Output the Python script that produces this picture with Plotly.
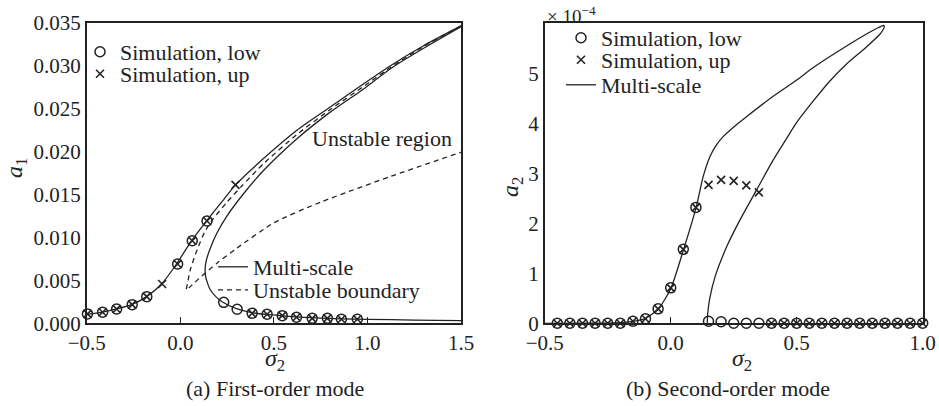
import plotly.graph_objects as go

# ---------------- Panel (a): first-order mode ----------------
sim1_low_x = [-0.496, -0.415, -0.34, -0.257, -0.179, -0.014, 0.064, 0.143,
              0.232, 0.304, 0.384, 0.464, 0.545, 0.621, 0.705, 0.786, 0.861, 0.946]
sim1_low_y = [0.00109, 0.00128, 0.00167, 0.00217, 0.0031, 0.0069, 0.0096, 0.0119,
              0.00244, 0.00163, 0.00116, 0.00105, 0.00089, 0.0007, 0.00058, 0.00058, 0.00047, 0.00047]
sim1_up_x = [-0.496, -0.415, -0.34, -0.257, -0.179, -0.097, -0.014, 0.064, 0.143,
             0.295, 0.384, 0.464, 0.545, 0.621, 0.705, 0.786, 0.861, 0.946]
sim1_up_y = [0.00109, 0.00128, 0.00167, 0.00217, 0.0031, 0.00457, 0.0069, 0.0096, 0.0119,
             0.0161, 0.00116, 0.00105, 0.00089, 0.0007, 0.00058, 0.00058, 0.00047, 0.00047]

ms1_upper_x = [-0.5, -0.42, -0.34, -0.26, -0.18, -0.1, -0.02, 0.06, 0.14, 0.232, 0.295,
               0.446, 0.625, 0.803, 0.982, 1.125, 1.3, 1.5]
ms1_upper_y = [0.00105, 0.00128, 0.00167, 0.00217, 0.0031, 0.00457, 0.0069, 0.0096, 0.0119,
               0.0144, 0.0161, 0.0192, 0.0225, 0.0252, 0.0279, 0.0300, 0.0323, 0.0346]

ms1_lower_x = [1.5, 1.3, 1.125, 0.982, 0.803, 0.625, 0.446, 0.339, 0.25, 0.196, 0.16, 0.14,
               0.133, 0.135, 0.145, 0.16, 0.19, 0.223, 0.30, 0.38, 0.46, 0.54, 0.62, 0.70,
               0.86, 1.0, 1.25, 1.5]
ms1_lower_y = [0.0345, 0.0320, 0.02965, 0.0273, 0.0246, 0.0215, 0.0178, 0.0151, 0.0125,
               0.0105, 0.0087, 0.0074, 0.0064, 0.0055, 0.0047, 0.0039, 0.0031, 0.0025, 0.0017,
               0.00125, 0.00103, 0.00088, 0.00075, 0.00065, 0.00052, 0.00046, 0.00038, 0.00032]

ub_x = [1.5, 1.3, 1.125, 0.982, 0.803, 0.625, 0.446, 0.33, 0.25, 0.17, 0.13, 0.089, 0.053,
        0.039, 0.032, 0.045, 0.06, 0.1, 0.196, 0.30, 0.5, 0.75, 1.125, 1.5]
ub_y = [0.0346, 0.0322, 0.0298, 0.0276, 0.0249, 0.0220, 0.0186, 0.0160, 0.0141, 0.0120,
        0.0106, 0.0085, 0.0062, 0.0047, 0.00387, 0.0041, 0.0044, 0.0052, 0.0070, 0.0087,
        0.0117, 0.0141, 0.0171, 0.0199]

# ---------------- Panel (b): second-order mode (values in units of 1e-4) ----------------
sim2_low_x = [-0.45, -0.40, -0.35, -0.30, -0.25, -0.20, -0.15, -0.10, -0.05, 0.00, 0.05, 0.10,
              0.15, 0.20, 0.25, 0.30, 0.35, 0.40, 0.45, 0.50, 0.55, 0.60, 0.65, 0.70, 0.75,
              0.80, 0.85, 0.90, 0.95, 1.00]
sim2_low_y = [0, 0, 0, 0, 0, 0, 0.04, 0.09, 0.29, 0.71, 1.48, 2.32,
              0.04, 0.03, 0, 0, 0, 0, 0, 0, 0, 0, 0, 0, 0, 0, 0, 0, 0, 0]
sim2_up_x = [-0.45, -0.40, -0.35, -0.30, -0.25, -0.20, -0.15, -0.10, -0.05, 0.00, 0.05, 0.10,
             0.15, 0.20, 0.25, 0.30, 0.35, 0.40, 0.45, 0.50, 0.55, 0.60, 0.65, 0.70, 0.75,
             0.80, 0.85, 0.90, 0.95, 1.00]
sim2_up_y = [0, 0, 0, 0, 0, 0, 0.04, 0.09, 0.29, 0.71, 1.48, 2.32,
             2.77, 2.87, 2.85, 2.76, 2.62, 0, 0, 0, 0, 0, 0, 0, 0, 0, 0, 0, 0, 0]

ms2_x = [-0.5, -0.3, -0.2, -0.15, -0.1, -0.05, 0.0, 0.05, 0.1, 0.129, 0.156, 0.183, 0.209,
         0.262, 0.302, 0.40, 0.5, 0.566, 0.698, 0.791, 0.825, 0.843, 0.848, 0.842, 0.831,
         0.77, 0.698, 0.63, 0.566, 0.5, 0.46, 0.407, 0.341, 0.275, 0.222, 0.176, 0.155,
         0.147, 0.145]
ms2_y = [0, 0.005, 0.015, 0.04, 0.10, 0.28, 0.69, 1.46, 2.30, 2.94, 3.34, 3.58, 3.74,
         3.98, 4.14, 4.52, 4.87, 5.12, 5.55, 5.83, 5.92, 5.96, 5.94, 5.87, 5.79,
         5.50, 5.19, 4.84, 4.45, 4.02, 3.70, 3.27, 2.67, 2.07, 1.53, 0.93, 0.50, 0.20, 0.0]

FONT = "Liberation Serif, DejaVu Serif, Times New Roman, serif"
W, H = 939, 406
BLACK = "#222"


def px(x):
    return x / W


def py(y):
    return (H - y) / H


fig = go.Figure()

circ = dict(symbol="circle-open", size=10, color=BLACK, line=dict(width=1.5, color=BLACK))
cross = dict(symbol="x-thin-open", size=8, color=BLACK, line=dict(width=1.6, color=BLACK))
solid = dict(color=BLACK, width=1.3, shape="spline", smoothing=0.6)
dashed = dict(color=BLACK, width=1.3, dash="5px,4px", shape="spline", smoothing=0.6)

# panel (a)
fig.add_trace(go.Scatter(x=ms1_upper_x, y=ms1_upper_y, mode="lines", line=solid,
                         name="Multi-scale", legend="legend3", xaxis="x", yaxis="y"))
fig.add_trace(go.Scatter(x=ms1_lower_x, y=ms1_lower_y, mode="lines", line=solid,
                         showlegend=False, xaxis="x", yaxis="y"))
fig.add_trace(go.Scatter(x=ub_x, y=ub_y, mode="lines", line=dashed,
                         name="Unstable boundary", legend="legend4", xaxis="x", yaxis="y"))
fig.add_trace(go.Scatter(x=sim1_low_x, y=sim1_low_y, mode="markers", marker=circ,
                         name="Simulation, low", legend="legend", xaxis="x", yaxis="y",
                         cliponaxis=False))
fig.add_trace(go.Scatter(x=sim1_up_x, y=sim1_up_y, mode="markers", marker=cross,
                         name="Simulation, up", legend="legend2", xaxis="x", yaxis="y",
                         cliponaxis=False))

# panel (b)
fig.add_trace(go.Scatter(x=ms2_x, y=ms2_y, mode="lines", line=solid,
                         name="Multi-scale", legend="legend7", xaxis="x2", yaxis="y2"))
fig.add_trace(go.Scatter(x=sim2_low_x, y=sim2_low_y, mode="markers", marker=circ,
                         name="Simulation, low", legend="legend5", xaxis="x2", yaxis="y2",
                         cliponaxis=False))
fig.add_trace(go.Scatter(x=sim2_up_x, y=sim2_up_y, mode="markers", marker=cross,
                         name="Simulation, up", legend="legend6", xaxis="x2", yaxis="y2",
                         cliponaxis=False))

tickfont = dict(family=FONT, size=21, color=BLACK)
axis_common = dict(showline=True, linecolor=BLACK, linewidth=1.5, mirror=True,
                   showgrid=False, zeroline=False, tickfont=tickfont, automargin=False)

ydom = [py(323.3), py(22.5)]

fig.update_layout(
    width=W, height=H,
    margin=dict(l=0, r=0, t=0, b=0, autoexpand=False),
    paper_bgcolor="white", plot_bgcolor="white",
    font=dict(family=FONT, size=22, color=BLACK),
    xaxis=dict(domain=[px(86.7), px(461)], range=[-0.5, 1.5], dtick=0.5, tickformat=".1f",
               ticks="inside", ticklen=7, tickcolor=BLACK, anchor="y", **axis_common),
    yaxis=dict(domain=ydom, range=[0, 0.035], dtick=0.005, tickformat=".3f",
               ticks="", anchor="x", **axis_common),
    xaxis2=dict(domain=[px(544.7), px(922.7)], range=[-0.5, 1.0], dtick=0.5, tickformat=".1f",
                ticks="inside", ticklen=7, tickcolor=BLACK, anchor="y2", **axis_common),
    yaxis2=dict(domain=ydom, range=[0, 6.02], tickvals=[0, 1, 2, 3, 4, 5],
                ticks="", anchor="x2", **axis_common),
)

legfont = dict(family=FONT, size=22, color=BLACK)


def leg(xl, yc):
    return dict(x=px(xl), y=py(yc), xanchor="left", yanchor="middle", font=legfont,
                bgcolor="rgba(0,0,0,0)", borderwidth=0, itemwidth=30)


fig.update_layout(
    legend=leg(80, 52),
    legend2=leg(80, 74),
    legend3=leg(213, 267),
    legend4=leg(213, 290),
    legend5=leg(561, 38),
    legend6=leg(561, 60),
    legend7=leg(561, 85),
)


def note(text, x, y, size=22, angle=0, xanchor="center"):
    return dict(text=text, x=px(x), y=py(y), xref="paper", yref="paper", showarrow=False,
                textangle=angle, xanchor=xanchor, yanchor="middle",
                font=dict(family=FONT, size=size, color=BLACK))


ann = [
    note("<i>a</i><sub>1</sub>", 16, 168, size=24, angle=-90),
    note("<i>a</i><sub>2</sub>", 512, 187, size=24, angle=-90),
    note("<i>σ</i><sub>2</sub>", 275, 360, size=24),
    note("<i>σ</i><sub>2</sub>", 742, 360, size=24),
    note("(a) First-order mode", 275, 388),
    note("(b) Second-order mode", 728, 388),
    note("Unstable region", 310, 138, xanchor="left"),
    note("× 10<sup>−4</sup>", 545, 15, size=19, xanchor="left"),
]
fig.update_layout(annotations=ann)

fig.write_html("out.html", config={"displayModeBar": False},
               post_script="document.body.style.margin='0px';")
